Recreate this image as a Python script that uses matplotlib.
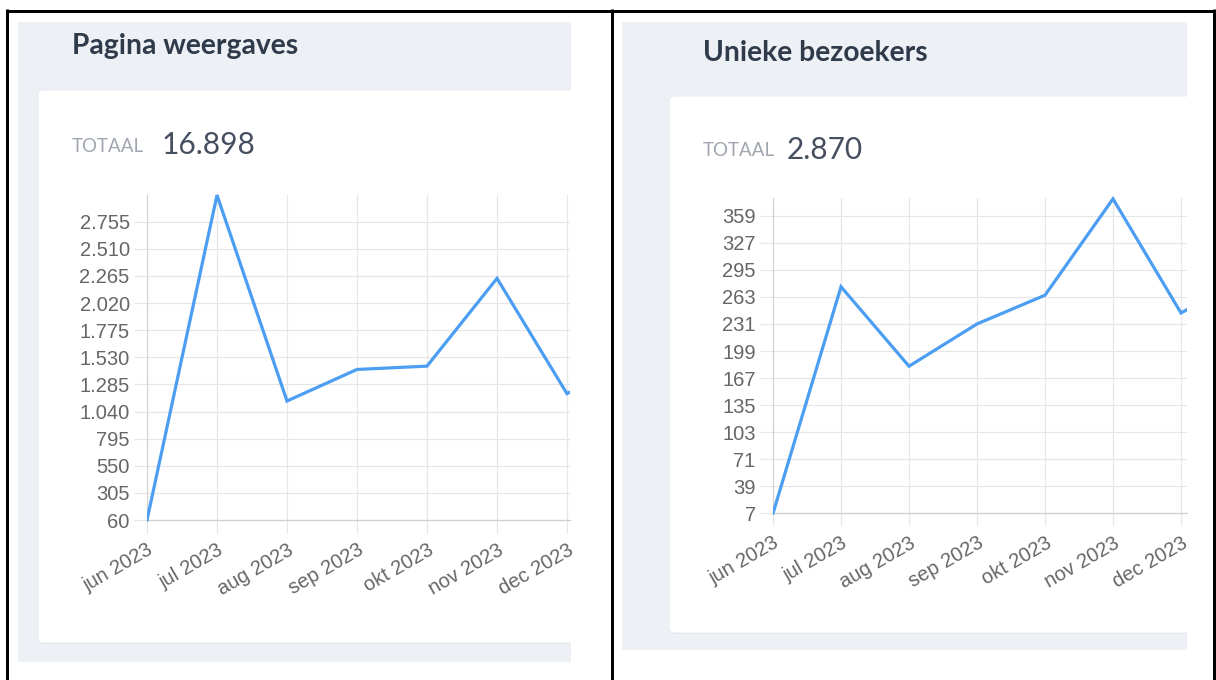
import matplotlib
matplotlib.use("Agg")
import matplotlib.pyplot as plt
from matplotlib.patches import Rectangle, FancyBboxPatch

# ---------------- data ----------------
months = ["jun 2023", "jul 2023", "aug 2023", "sep 2023", "okt 2023",
          "nov 2023", "dec 2023", "jan 2024"]
pageviews = [60, 2995, 1135, 1420, 1450, 2243, 1201, 1540]
visitors = [7, 275, 181, 231, 265, 379, 244, 288]
pageview_ticks = [60, 305, 550, 795, 1040, 1285, 1530, 1775, 2020, 2265, 2510, 2755]
visitor_ticks = [7, 39, 71, 103, 135, 167, 199, 231, 263, 295, 327, 359]
titles = ["Pagina weergaves", "Unieke bezoekers"]
totals = ["16.898", "2.870"]
total_label = "TOTAAL"

W, H = 1216, 680
fig = plt.figure(figsize=(W / 100, H / 100), dpi=100)
fig.patch.set_facecolor("white")

bg = fig.add_axes([0, 0, 1, 1])
bg.set_xlim(0, W)
bg.set_ylim(H, 0)
bg.axis("off")
bg.set_zorder(-5)

PANEL = "#edf0f4"
TITLE_C = "#2f3a4a"
NUM_C = "#454f60"
LBL_C = "#a0a6b0"
LINE_C = "#4c9ef2"
GRID_C = "#e6e6e6"
TICK_C = "#666666"


def fmt(v):
    return f"{v:,}".replace(",", ".")


def px(lw):
    return lw * 0.72


panels = [
    dict(panel=(18, 22, 571, 662), card=(38, 90, 643), title=(72, 46),
         total=(72, 145, 162), axes=(147, 195, 570, 520), step=70,
         data=pageviews, ticks=pageview_ticks, ylim=(60, 2996)),
    dict(panel=(622, 22, 1187, 650), card=(669, 96, 633), title=(703, 53),
         total=(703, 150, 787), axes=(773, 198, 1187, 513.3), step=68,
         data=visitors, ticks=visitor_ticks, ylim=(7, 380)),
]

for i, p in enumerate(panels):
    x0, y0, x1, y1 = p["panel"]
    prect = Rectangle((x0, y0), x1 - x0, y1 - y0, facecolor=PANEL,
                      edgecolor="none", zorder=0)
    bg.add_patch(prect)
    cx, cy0, cy1 = p["card"]
    sh = FancyBboxPatch((cx, cy0 + 1), (x1 + 40) - cx, cy1 - cy0,
                        boxstyle="round,pad=0,rounding_size=6",
                        facecolor="#dfe3e9", edgecolor="none", zorder=1)
    bg.add_patch(sh)
    sh.set_clip_path(prect)
    card = FancyBboxPatch((cx, cy0), (x1 + 40) - cx, cy1 - cy0,
                          boxstyle="round,pad=0,rounding_size=6",
                          facecolor="white", edgecolor="#e8ebef",
                          linewidth=0.7, zorder=2)
    bg.add_patch(card)
    card.set_clip_path(prect)

    tx, ty = p["title"]
    bg.text(tx, ty, titles[i], fontsize=20.3, fontweight="bold",
            family=["Lato", "DejaVu Sans"], color=TITLE_C,
            ha="left", va="center", zorder=3)
    lx, ly, nx = p["total"]
    bg.text(lx, ly + 1, total_label, fontsize=13.5, family=["Lato", "DejaVu Sans"],
            color=LBL_C, ha="left", va="center", zorder=3)
    bg.text(nx, ly, totals[i], fontsize=21.5, family=["Lato", "DejaVu Sans"],
            color=NUM_C, ha="left", va="center", zorder=3)

    ax0, ay0, ax1, ay1 = p["axes"]
    ax = fig.add_axes([ax0 / W, 1 - ay1 / H, (ax1 - ax0) / W, (ay1 - ay0) / H])
    ax.set_facecolor("none")
    xs = list(range(len(months)))
    (ln,) = ax.plot(xs, p["data"], color=LINE_C, lw=px(3.2),
                    solid_joinstyle="miter", zorder=5)
    clip = Rectangle((0, -0.1), 1.0, 1.2, transform=ax.transAxes,
                     facecolor="none", edgecolor="none")
    ln.set_clip_path(clip)
    ax.set_xticks(xs)
    ax.set_xticklabels(months, rotation=30, ha="right", va="top",
                       rotation_mode="anchor")
    ax.set_yticks(p["ticks"])
    ax.set_yticklabels([fmt(t) for t in p["ticks"]])
    ax.set_xlim(0, (ax1 - ax0) / p["step"])
    ax.set_ylim(*p["ylim"])
    ax.grid(True, color=GRID_C, lw=px(1.2))
    ax.set_axisbelow(True)
    ax.tick_params(axis="both", length=9.5, width=px(1.2), color=GRID_C,
                   labelcolor=TICK_C, labelsize=14.5)
    ax.tick_params(axis="y", pad=3)
    ax.tick_params(axis="x", pad=5)
    for lab in ax.get_xticklabels() + ax.get_yticklabels():
        lab.set_family(["Liberation Sans", "DejaVu Sans"])
    for s in ("top", "right"):
        ax.spines[s].set_visible(False)
    ax.spines["left"].set_color("#d2d2d2")
    ax.spines["bottom"].set_color("#cfcfcf")
    ax.spines["left"].set_linewidth(px(1.2))
    ax.spines["bottom"].set_linewidth(px(1.2))

# black frame
fr = dict(color="black", lw=px(3), solid_capstyle="butt", zorder=10)
bg.plot([6, 1215.5], [10.5, 10.5], **fr)
bg.plot([7.2, 7.2], [9, H], **fr)
bg.plot([611.5, 611.5], [9, H], **fr)
bg.plot([1214, 1214], [9, H], **fr)

fig.savefig("out.png", dpi=100)
